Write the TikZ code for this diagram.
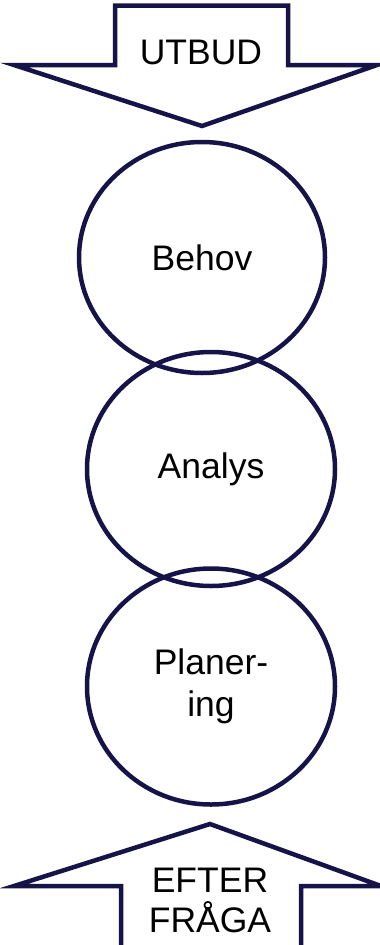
\documentclass[tikz,border=0pt]{standalone}
\usepackage{fontspec}
\setmainfont{Liberation Sans}
\usetikzlibrary{shapes.geometric}
\definecolor{navy}{RGB}{22,19,72}
\begin{document}
\begin{tikzpicture}[x=1pt,y=-1pt,
  outline/.style={draw=navy,line width=4.5pt,line join=miter},
  stage/.style={ellipse,draw=navy,line width=4.5pt,inner sep=0pt,align=center,font=\fontsize{35.5}{42}\selectfont},
  label/.style={align=center,inner sep=0pt,font=\fontsize{35.5}{40}\selectfont}]
\useasboundingbox (0,0) rectangle (380,945);
% top arrow (UTBUD)
\draw[outline] (115,5.5) -- (288,5.5) -- (288,65) -- (377,65) -- (202,126) -- (14,65) -- (115,65) -- cycle;
\node[label] (utbud) at (201,52) {UTBUD};
% circles
\node[stage,minimum width=246pt,minimum height=231pt] (behov) at (202,257.5) {Behov};
\node[stage,minimum width=248pt,minimum height=234pt] (analys) at (211,469) {Analys};
\node[stage,minimum width=248pt,minimum height=236pt] (plan) at (211,686.5) {Planer-\\ing};
% bottom arrow (EFTERFRAGA)
\draw[outline] (121,948) -- (121,886) -- (14,886) -- (210,824) -- (381,886) -- (301,886) -- (301,948);
\node[label] (efter) at (210,900) {EFTER\\FRÅGA};
\end{tikzpicture}
\end{document}
